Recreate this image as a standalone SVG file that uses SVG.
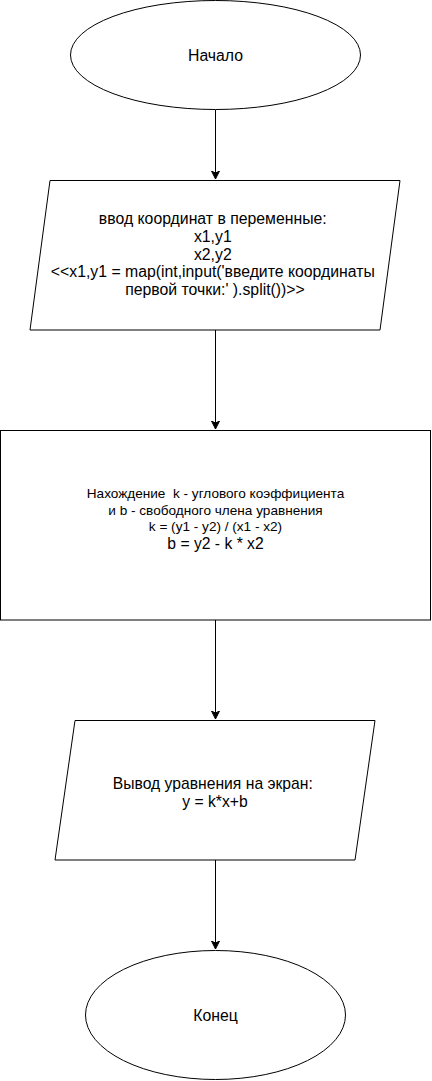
<svg xmlns="http://www.w3.org/2000/svg" width="432" height="1081" viewBox="0 0 432 1081">
<style>
.s{fill:#fff;stroke:#000;stroke-width:1}
.t{font-family:"Liberation Sans",Arial,sans-serif;fill:#000;text-anchor:middle}
.c{stroke:#000;stroke-width:1;fill:none}
</style>
<defs>
<marker id="a" markerWidth="10" markerHeight="10" refX="8" refY="4" orient="auto" markerUnits="userSpaceOnUse">
<path d="M0,0 L8,4 L0,8 L2,4 Z" fill="#000" stroke="#000" stroke-width="1"/>
</marker>
</defs>
<rect width="432" height="1081" fill="#fff"/>
<g id="connectors">
<line class="c" x1="215.5" y1="110" x2="215.5" y2="179" marker-end="url(#a)"/>
<line class="c" x1="215.5" y1="330" x2="215.5" y2="429" marker-end="url(#a)"/>
<line class="c" x1="215.5" y1="620" x2="215.5" y2="719" marker-end="url(#a)"/>
<line class="c" x1="215.5" y1="860" x2="215.5" y2="949" marker-end="url(#a)"/>
</g>
<g id="start">
<ellipse class="s" cx="215.5" cy="55" rx="145" ry="54.5"/>
<text class="t" x="215.5" y="60.5" font-size="15.8">Начало</text>
</g>
<g id="input">
<polygon class="s" points="50,180.5 400,180.5 380,330 30,330"/>
<text class="t" font-size="15.8">
<tspan x="215" y="224">ввод координат в переменные:</tspan>
<tspan x="215" y="241.8">x1,y1</tspan>
<tspan x="215" y="259.6">x2,y2</tspan>
<tspan x="215" y="277.4">&lt;&lt;x1,y1 = map(int,input('введите координаты</tspan>
<tspan x="215" y="295.2">первой точки:' ).split())&gt;&gt;</tspan>
</text>
</g>
<g id="calc">
<rect class="s" x="0.5" y="430.5" width="430" height="189.5"/>
<text class="t" font-size="13.6" xml:space="preserve"><tspan x="215.5" y="498">Нахождение  k - углового коэффициента</tspan><tspan x="215.5" y="514.5">и b - свободного члена уравнения</tspan><tspan x="215.5" y="531">k = (y1 - y2) / (x1 - x2)</tspan></text>
<text class="t" x="215.5" y="548.5" font-size="15.7">b = y2 - k * x2</text>
</g>
<g id="output">
<polygon class="s" points="75,720.5 375,720.5 355,860 55,860"/>
<text class="t" font-size="15.7">
<tspan x="215" y="789">Вывод уравнения на экран:</tspan>
<tspan x="215" y="807">y = k*x+b</tspan>
</text>
</g>
<g id="end">
<ellipse class="s" cx="215.5" cy="1015" rx="130" ry="64.5"/>
<text class="t" x="215.5" y="1020.5" font-size="15.8">Конец</text>
</g>
</svg>
